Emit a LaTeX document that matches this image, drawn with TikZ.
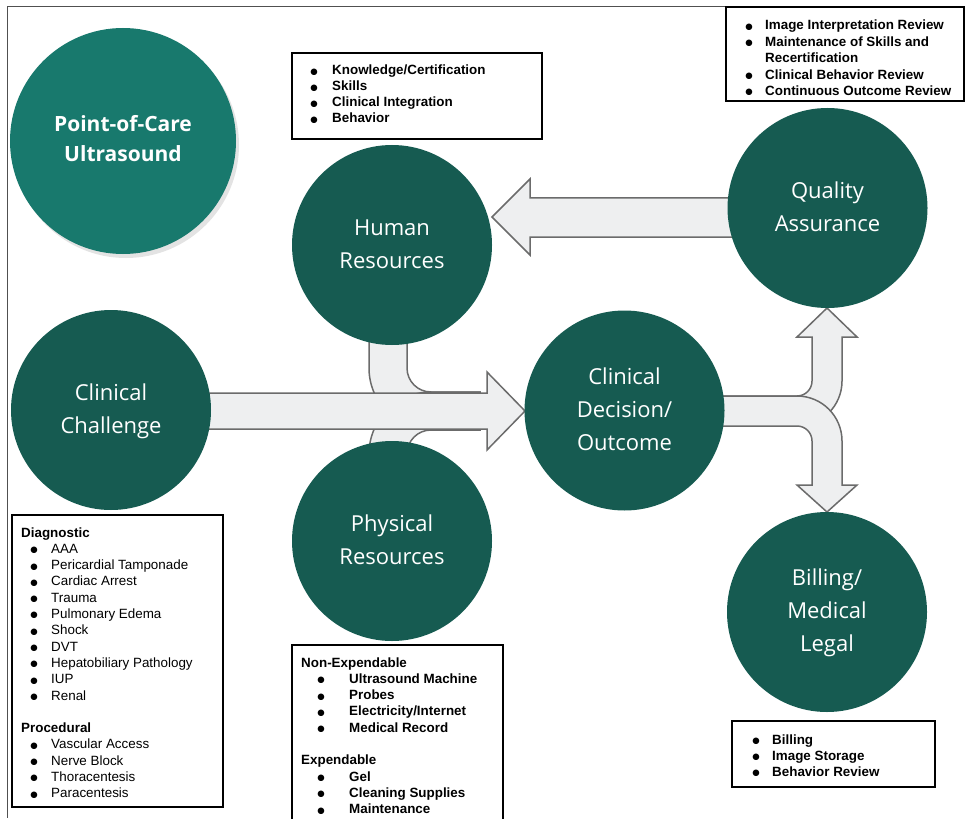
\documentclass[tikz,border=0pt]{standalone}
\usepackage{fontspec}
\setmainfont{Liberation Sans}
\newfontfamily\circfont{Open Sans}
\newfontfamily\dejavu{DejaVu Sans}
\usetikzlibrary{shadows}
\definecolor{dkteal}{HTML}{165B51}
\definecolor{ltteal}{HTML}{18796D}
\definecolor{arrfill}{HTML}{EEEFF0}
\definecolor{arrline}{HTML}{6B6B6B}
\definecolor{framec}{HTML}{505050}
\newcommand\bl[2]{\llap{\raisebox{0.6pt}{\dejavu\fontsize{8.5}{9}\selectfont ●}\hspace{\dimexpr#1-1.2pt\relax}}#2}
\begin{document}
\begin{tikzpicture}[x=1pt,y=-1pt,
  blob/.style={circle, fill=dkteal, inner sep=0pt, minimum size=200pt, text=white, align=center,
    font=\circfont\fontsize{22}{33}\selectfont},
  blockarrow/.style={fill=arrfill, draw=arrline, line width=1.5pt, line join=miter},
  infobox/.style={draw=black, line width=2pt, fill=white, inner sep=0pt, anchor=north west},
  itemb/.style={anchor=base west, inner sep=0pt, font=\fontsize{13.4}{16}\selectfont\bfseries},
  itemr/.style={anchor=base west, inner sep=0pt, font=\fontsize{13.4}{16}\selectfont}
]
\useasboundingbox (0,0) rectangle (965,818);
\fill[white] (0,0) rectangle (965,818);
% frame
\draw[framec, line width=1pt] (965,7) -- (7,7) -- (7,818);

% merging connectors from Human / Physical Resources
\draw[blockarrow] (369,330) -- (369,368) arc[start angle=180, end angle=90, radius=62]
  -- (480,430) -- (480,392) -- (431,392) arc[start angle=90, end angle=180, radius=24]
  -- (407,330) -- cycle;
\draw[blockarrow] (369,470) -- (369,454) arc[start angle=180, end angle=270, radius=62]
  -- (480,392) -- (480,430) -- (431,430) arc[start angle=270, end angle=180, radius=24]
  -- (407,470) -- cycle;
% main arrow
\draw[blockarrow] (200,393) -- (487,393) -- (487,372) -- (525,411) -- (487,450) -- (487,429)
  -- (200,429) -- cycle;
% top arrow (QA -> HR)
\draw[blockarrow] (740,198) -- (530,198) -- (530,179) -- (492,217) -- (530,255) -- (530,237)
  -- (740,237) -- cycle;
% up branch
\draw[blockarrow] (700,396) -- (797,396) arc[start angle=90, end angle=0, radius=15]
  -- (812,337) -- (797,337) -- (827,308) -- (857,337) -- (842,337) -- (842,381)
  arc[start angle=0, end angle=90, radius=45] -- (700,426) -- cycle;
% down branch
\draw[blockarrow] (700,396) -- (797,396) arc[start angle=270, end angle=360, radius=45]
  -- (842,485) -- (857,485) -- (827,512) -- (797,485) -- (812,485) -- (812,441)
  arc[start angle=360, end angle=270, radius=15] -- (700,426) -- cycle;

% circles
\node[blob, fill=ltteal, minimum size=226pt,
  font=\circfont\bfseries\fontsize{21}{30}\selectfont,
  drop shadow={opacity=0.22, shadow xshift=3pt, shadow yshift=-4pt}] (poc) at (123,141)
  {\strut Point-of-Care\\\strut Ultrasound};
\node[blob] (hr) at (392,245) {\strut Human\\\strut Resources};
\node[blob] (qa) at (827.5,208) {\strut Quality\\\strut Assurance};
\node[blob] (cc) at (111,410) {\strut Clinical\\\strut Challenge};
\node[blob] (cdo) at (624.5,410.5) {\strut Clinical\\\strut Decision/\\\strut Outcome};
\node[blob] (pr) at (392,541) {\strut Physical\\\strut Resources};
\node[blob] (bml) at (827,612) {\strut Billing/\\\strut Medical\\\strut Legal};

% Human Resources box
\node[infobox, minimum width=250pt, minimum height=86pt] (hrbox) at (291,52) {};
\foreach \t [count=\i from 0] in {Knowledge/Certification, Skills, Clinical Integration, Behavior}
  \node[itemb, name=hri\i] at (332, 75+16*\i) {\bl{15.6pt}{\t}};

% Quality Assurance box
\node[infobox, minimum width=238pt, minimum height=94pt] (qabox) at (725,6) {};
\node[itemb] (qa0) at (765,30) {\bl{13.6pt}{Image Interpretation Review}};
\node[itemb] (qa1) at (765,46.4) {\bl{13.6pt}{Maintenance of Skills and}};
\node[itemb] (qa2) at (765,62.8) {Recertification};
\node[itemb] (qa3) at (765,79.2) {\bl{13.6pt}{Clinical Behavior Review}};
\node[itemb] (qa4) at (765,95.6) {\bl{13.6pt}{Continuous Outcome Review}};

% Clinical Challenge box
\node[infobox, minimum width=211pt, minimum height=292pt] (ccbox) at (11,514) {};
\node[itemb] (cch1) at (21,537) {Diagnostic};
\foreach \t [count=\i] in {AAA, Pericardial Tamponade, Cardiac Arrest, Trauma, Pulmonary Edema,
    Shock, DVT, Hepatobiliary Pathology, IUP, Renal}
  \node[itemr, name=cci\i] at (51, 537+16.3*\i) {\bl{14.7pt}{\t}};
\node[itemb] (cch2) at (21, 732.6) {Procedural};
\foreach \t [count=\i from 13] in {Vascular Access, Nerve Block, Thoracentesis, Paracentesis}
  \node[itemr, name=cci\i] at (51, 537+16.3*\i) {\bl{14.7pt}{\t}};

% Physical Resources box
\node[infobox, minimum width=211pt, minimum height=190pt] (prbox) at (291,644) {};
\node[itemb] (prh1) at (301,667) {Non-Expendable};
\foreach \t [count=\i] in {Ultrasound Machine, Probes, Electricity/Internet, Medical Record}
  \node[itemb, name=pri\i] at (349, 667+16.3*\i) {\bl{25.6pt}{\t}};
\node[itemb] (prh2) at (301, 764.8) {Expendable};
\foreach \t [count=\i from 7] in {Gel, Cleaning Supplies, Maintenance}
  \node[itemb, name=pri\i] at (349, 667+16.3*\i) {\bl{25.6pt}{\t}};

% Billing box
\node[infobox, minimum width=203pt, minimum height=66pt] (bmbox) at (731,720) {};
\foreach \t [count=\i from 0] in {Billing, Image Storage, Behavior Review}
  \node[itemb, name=bmi\i] at (772, 744+16*\i) {\bl{13.6pt}{\t}};
\end{tikzpicture}
\end{document}
